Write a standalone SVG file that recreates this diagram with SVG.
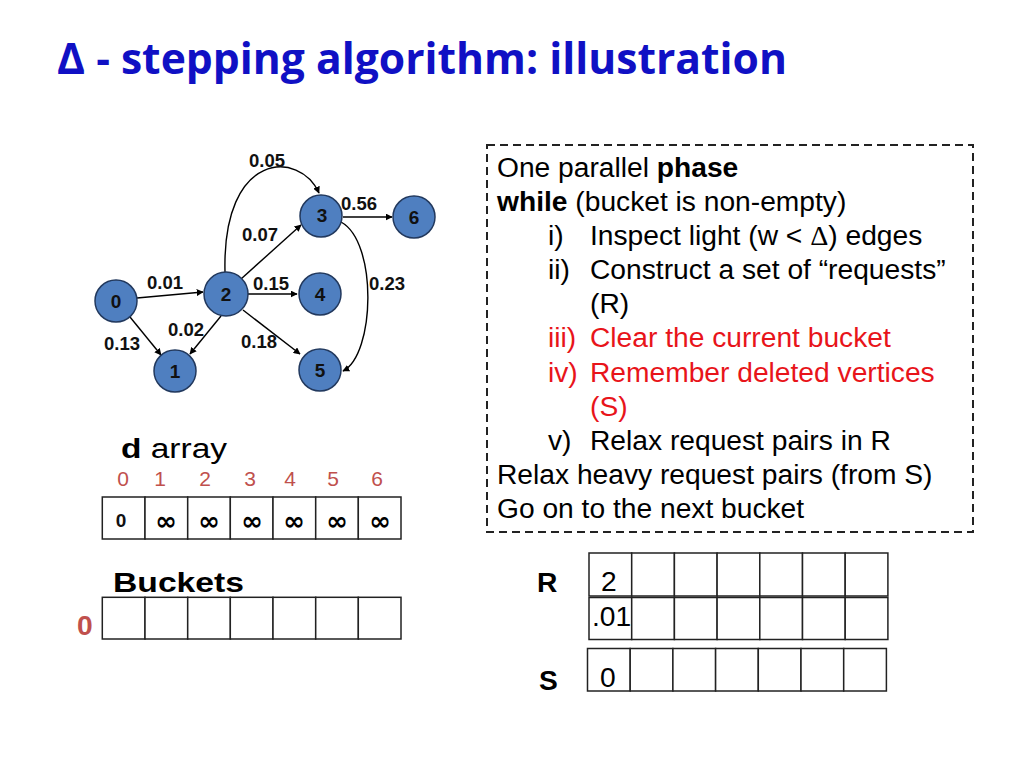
<svg xmlns="http://www.w3.org/2000/svg" width="1024" height="768" viewBox="0 0 1024 768">
<defs>
<style>
.node{fill:#4F7FC0;stroke:#22395E;stroke-width:1.5}
.nl{font-family:"Liberation Sans",Arial,sans-serif;font-weight:bold;font-size:19px;fill:#111;text-anchor:middle}
.el{font-family:"Liberation Sans",Arial,sans-serif;font-weight:bold;font-size:18.5px;fill:#111}
.edge{fill:none;stroke:#000;stroke-width:1.4;marker-end:url(#ah)}
.cell{fill:#fff;stroke:#222;stroke-width:1.5}
.tx{font-family:"Liberation Sans",Arial,sans-serif;font-size:28.2px;fill:#000}
.red{fill:#E8141A}
.idx{font-family:"Liberation Sans",Arial,sans-serif;font-size:21px;fill:#C0504D;text-anchor:middle}
.b{font-weight:bold}
.inf{font-family:"DejaVu Sans",sans-serif;font-weight:bold;font-size:26px;text-anchor:middle;fill:#000}
</style>
<marker id="ah" viewBox="0 0 10 10" refX="9" refY="5" markerWidth="7" markerHeight="7" orient="auto" markerUnits="userSpaceOnUse">
<path d="M0,0 L10,5 L0,10 z" fill="#000"/>
</marker>
</defs>
<rect width="1024" height="768" fill="#fff"/>

<text x="57" y="74" font-family="'Open Sans',sans-serif" font-weight="bold" font-size="43" fill="#1010C4" textLength="730" lengthAdjust="spacingAndGlyphs">Δ - stepping algorithm: illustration</text>

<g id="connectors">
<path class="edge" d="M137,298 L203,292"/>
<path class="edge" d="M130,317 L161,355"/>
<path class="edge" d="M221,316 L190,354"/>
<path class="edge" d="M241,279 L301,225"/>
<path class="edge" d="M248,294 L297,294"/>
<path class="edge" d="M243,310 L300,354"/>
<path class="edge" d="M225,272 C222,150 300,150 319,193"/>
<path class="edge" d="M343,217 L392,217"/>
<path class="edge" d="M341,222 C378,242 375,355 343,371"/>
<text class="el" x="249" y="167">0.05</text>
<text class="el" x="341" y="210">0.56</text>
<text class="el" x="242" y="241">0.07</text>
<text class="el" x="147" y="289">0.01</text>
<text class="el" x="253" y="290">0.15</text>
<text class="el" x="369" y="290">0.23</text>
<text class="el" x="168" y="336">0.02</text>
<text class="el" x="104" y="350">0.13</text>
<text class="el" x="241" y="348">0.18</text>
</g>

<g id="node0"><circle class="node" cx="116" cy="301" r="21"/><text class="nl" x="116" y="308">0</text></g>
<g id="node1"><circle class="node" cx="175" cy="371" r="21"/><text class="nl" x="175" y="378">1</text></g>
<g id="node2"><circle class="node" cx="226" cy="294" r="22"/><text class="nl" x="226" y="301">2</text></g>
<g id="node3"><circle class="node" cx="321" cy="216" r="21"/><text class="nl" x="322" y="222">3</text></g>
<g id="node4"><circle class="node" cx="320" cy="294" r="21"/><text class="nl" x="320" y="301">4</text></g>
<g id="node5"><circle class="node" cx="320" cy="370" r="21"/><text class="nl" x="320" y="377">5</text></g>
<g id="node6"><circle class="node" cx="414" cy="217" r="21"/><text class="nl" x="414" y="224">6</text></g>

<g id="darray">
<text class="tx" x="121" y="458" font-size="30" textLength="106" lengthAdjust="spacingAndGlyphs"><tspan class="b">d</tspan> array</text>
<text class="idx" x="123" y="486">0</text>
<text class="idx" x="160" y="486">1</text>
<text class="idx" x="205" y="486">2</text>
<text class="idx" x="250" y="486">3</text>
<text class="idx" x="290" y="486">4</text>
<text class="idx" x="333" y="486">5</text>
<text class="idx" x="377" y="486">6</text>
<rect class="cell" x="102.3" y="497" width="42.7" height="42"/>
<rect class="cell" x="145" y="497" width="42.7" height="42"/>
<rect class="cell" x="187.7" y="497" width="42.7" height="42"/>
<rect class="cell" x="230.3" y="497" width="42.7" height="42"/>
<rect class="cell" x="273" y="497" width="42.7" height="42"/>
<rect class="cell" x="315.7" y="497" width="42.7" height="42"/>
<rect class="cell" x="358.3" y="497" width="42.7" height="42"/>
<text class="nl" x="121" y="527" font-size="18">0</text>
<text class="inf" x="166" y="530">∞</text>
<text class="inf" x="209" y="530">∞</text>
<text class="inf" x="252" y="530">∞</text>
<text class="inf" x="294" y="530">∞</text>
<text class="inf" x="337" y="530">∞</text>
<text class="inf" x="380" y="530">∞</text>
</g>

<g id="buckets">
<text class="tx b" x="113" y="592" font-size="31" textLength="131" lengthAdjust="spacingAndGlyphs">Buckets</text>
<text class="tx b" x="77" y="635" font-size="29" style="fill:#C0504D">0</text>
<rect class="cell" x="102.3" y="597.3" width="42.7" height="41.7"/>
<rect class="cell" x="145" y="597.3" width="42.7" height="41.7"/>
<rect class="cell" x="187.7" y="597.3" width="42.7" height="41.7"/>
<rect class="cell" x="230.3" y="597.3" width="42.7" height="41.7"/>
<rect class="cell" x="273" y="597.3" width="42.7" height="41.7"/>
<rect class="cell" x="315.7" y="597.3" width="42.7" height="41.7"/>
<rect class="cell" x="358.3" y="597.3" width="42.7" height="41.7"/>
</g>

<g id="textbox">
<rect x="487" y="145" width="486" height="387" fill="none" stroke="#222" stroke-width="2" stroke-dasharray="8,5"/>
<text class="tx" x="497" y="177">One parallel <tspan class="b">phase</tspan></text>
<text class="tx" x="497" y="211"><tspan class="b">while</tspan> (bucket is non-empty)</text>
<text class="tx" x="548" y="245">i)</text><text class="tx" x="590" y="245">Inspect light (w &lt; <tspan font-family="'Liberation Serif',serif">Δ</tspan>) edges</text>
<text class="tx" x="548" y="279">ii)</text><text class="tx" x="590" y="279">Construct a set of “requests”</text>
<text class="tx" x="590" y="313">(R)</text>
<text class="tx red" x="548" y="347">iii)</text><text class="tx red" x="590" y="347">Clear the current bucket</text>
<text class="tx red" x="548" y="382">iv)</text><text class="tx red" x="590" y="382">Remember deleted vertices</text>
<text class="tx red" x="590" y="416">(S)</text>
<text class="tx" x="548" y="450">v)</text><text class="tx" x="590" y="450">Relax request pairs in R</text>
<text class="tx" x="497" y="484">Relax heavy request pairs (from S)</text>
<text class="tx" x="497" y="518">Go on to the next bucket</text>
</g>

<g id="R">
<text class="tx b" x="537" y="592" font-size="30">R</text>
<rect class="cell" x="589" y="553" width="42.7" height="43"/>
<rect class="cell" x="631.7" y="553" width="42.7" height="43"/>
<rect class="cell" x="674.4" y="553" width="42.7" height="43"/>
<rect class="cell" x="717.1" y="553" width="42.7" height="43"/>
<rect class="cell" x="759.8" y="553" width="42.7" height="43"/>
<rect class="cell" x="802.5" y="553" width="42.7" height="43"/>
<rect class="cell" x="845.2" y="553" width="42.7" height="43"/>
<rect class="cell" x="589" y="597.5" width="42.7" height="42"/>
<rect class="cell" x="631.7" y="597.5" width="42.7" height="42"/>
<rect class="cell" x="674.4" y="597.5" width="42.7" height="42"/>
<rect class="cell" x="717.1" y="597.5" width="42.7" height="42"/>
<rect class="cell" x="759.8" y="597.5" width="42.7" height="42"/>
<rect class="cell" x="802.5" y="597.5" width="42.7" height="42"/>
<rect class="cell" x="845.2" y="597.5" width="42.7" height="42"/>
<text class="tx" x="601" y="591" font-size="31">2</text>
<text class="tx" x="592" y="626" font-size="18">.01</text>
</g>

<g id="S">
<text class="tx b" x="539" y="690" font-size="30">S</text>
<rect class="cell" x="587.5" y="648.5" width="42.7" height="42.5"/>
<rect class="cell" x="630.2" y="648.5" width="42.7" height="42.5"/>
<rect class="cell" x="672.9" y="648.5" width="42.7" height="42.5"/>
<rect class="cell" x="715.6" y="648.5" width="42.7" height="42.5"/>
<rect class="cell" x="758.3" y="648.5" width="42.7" height="42.5"/>
<rect class="cell" x="801" y="648.5" width="42.7" height="42.5"/>
<rect class="cell" x="843.7" y="648.5" width="42.7" height="42.5"/>
<text class="tx" x="600" y="687" font-size="31">0</text>
</g>
</svg>
